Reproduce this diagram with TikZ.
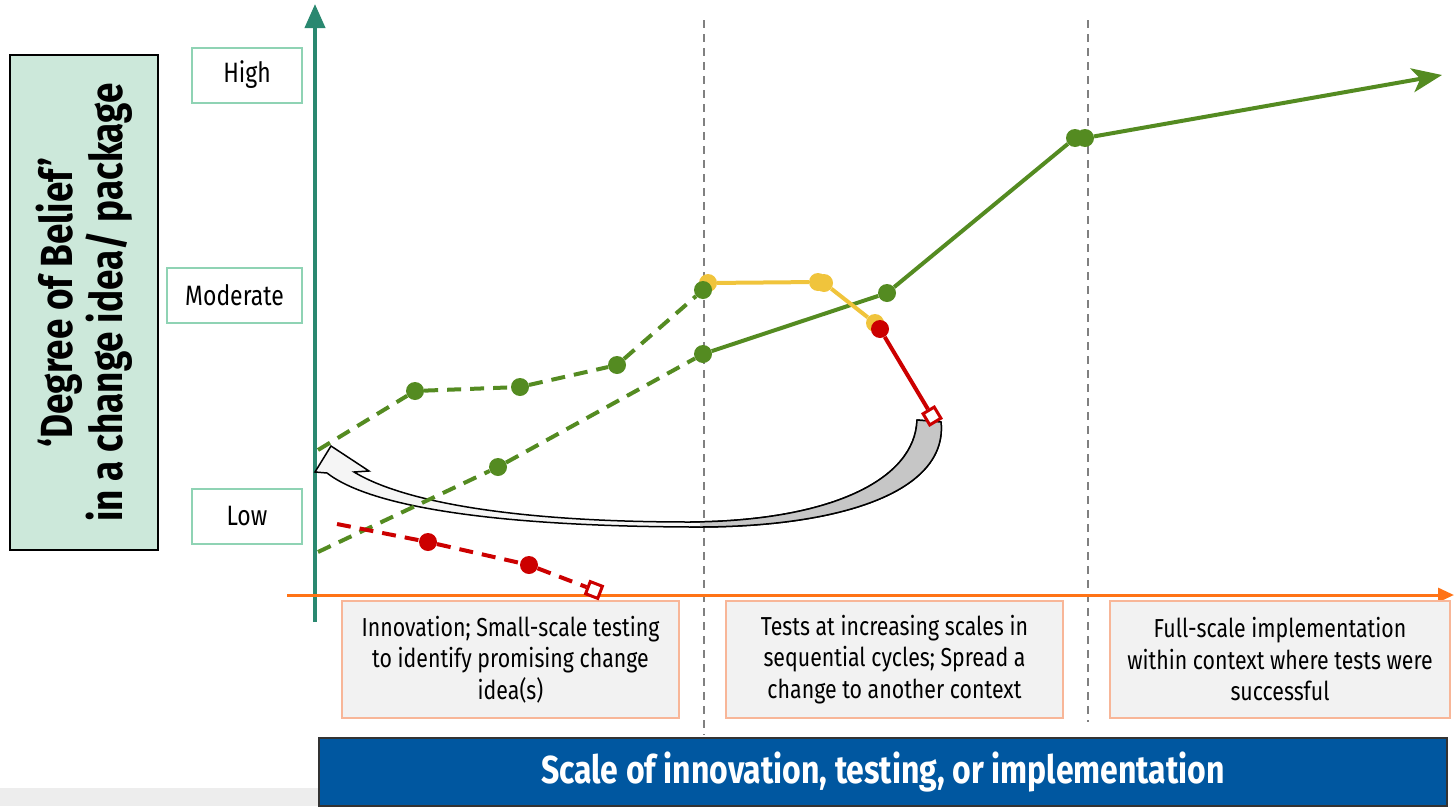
\documentclass[tikz,border=0pt]{standalone}
\usepackage{fontspec}
\setmainfont{Fira Sans}[FakeStretch=0.82]
\usetikzlibrary{arrows.meta,positioning,shapes}
\definecolor{beliefgreen}{RGB}{204,232,218}
\definecolor{axisteal}{RGB}{42,136,112}
\definecolor{axisorange}{RGB}{255,115,22}
\definecolor{levelborder}{RGB}{143,211,180}
\definecolor{stageborder}{RGB}{248,182,152}
\definecolor{stagefill}{RGB}{242,242,242}
\definecolor{scaleblue}{RGB}{0,87,160}
\definecolor{pathgreen}{RGB}{84,139,33}
\definecolor{pathyellow}{RGB}{240,196,60}
\definecolor{pathred}{RGB}{204,0,0}
\tikzset{level node/.style={draw=levelborder, line width=2pt, minimum height=55pt,
    inner sep=0pt, font=\fontsize{28}{30}\selectfont}}
\tikzset{stage node/.style={draw=stageborder, fill=stagefill, line width=2pt,
    minimum width=337pt, minimum height=117pt, inner sep=0pt, align=center,
    font=\fontsize{26}{31.5}\selectfont}}
\tikzset{dot/.style={circle, fill=#1, inner sep=0pt, minimum size=18pt}}
\tikzset{drop/.style={draw=pathred, fill=white, line width=3pt, inner sep=0pt,
    minimum size=13pt, rotate=#1}}
\tikzset{belief line/.style={line width=4pt}}
\tikzset{gap line/.style={belief line, dash pattern=on 14pt off 9pt}}
\tikzset{stage rule/.style={draw=gray, line width=1.5pt, dash pattern=on 8pt off 6pt}}

\begin{document}
\begin{tikzpicture}[x=1pt, y=-1pt]
  \useasboundingbox (0,0) rectangle (1454,806);
  \fill [gray!14] (0,788) rectangle (319,806);

  % stage separators
  \draw [stage rule] (704,20) -- (704,735);
  \draw [stage rule] (1088,20) -- (1088,722);

  % axes
  \draw [axisteal, line width=4pt, -{Triangle[width=20pt,length=24pt]}] (315,622) -- (315,4);
  \draw [axisorange, line width=3pt, -{Triangle[width=14pt,length=16pt]}] (287,595) -- (1454,595);

  % y axis title and levels
  \node [draw=black, fill=beliefgreen, line width=2pt, rotate=90, minimum width=495pt,
         minimum height=148pt, align=center, font=\bfseries\fontsize{45}{50}\selectfont]
        (belief) at (84,302.5) {‘Degree of Belief’\\in a change idea/ package};
  \node [level node, minimum width=110pt] (high)     at (247,75)    {High};
  \node [level node, minimum width=135pt] (moderate) at (234.5,295.5) {Moderate};
  \node [level node, minimum width=110pt] (low)      at (247,516)   {Low};

  % stages along the x axis
  \node [stage node]                     (stage1) at (510.5,659.5) {Innovation; Small-scale testing\\to identify promising change\\idea(s)};
  \node [stage node]                     (stage2) at (894.5,659.5) {Tests at increasing scales in\\sequential cycles; Spread a\\change to another context};
  \node [stage node, minimum width=340pt] (stage3) at (1280,659.5) {Full-scale implementation\\within context where tests were\\successful};
  \node [draw=black!80, fill=scaleblue, line width=2pt, minimum width=1128pt, minimum height=68pt,
         text=white, font=\bfseries\fontsize{39}{44}\selectfont]
        (scale) at (883,772) {Scale of innovation, testing, or implementation};

  % loop back to the start
  \path [draw=black, line width=1.5pt, fill=gray!8]
        (917,420) -- (941,422) .. controls (948,492) and (840,528) .. (690,527)
        .. controls (500,526) and (372,508) .. (327,473) -- (315,472) -- (331,446)
        -- (369,471) -- (354,472) .. controls (405,503) and (520,522) .. (690,522)
        .. controls (830,521) and (915,480) .. (917,420) -- cycle;
  \begin{scope}
    \clip (917,420) -- (941,422) .. controls (948,492) and (840,528) .. (690,527)
          -- (690,522) .. controls (830,521) and (915,480) .. (917,420) -- cycle;
    \fill [gray!45] (700,400) rectangle (960,540);
  \end{scope}
  \draw [black, line width=1.5pt]
        (917,420) -- (941,422) .. controls (948,492) and (840,528) .. (690,527)
        (690,522) .. controls (830,521) and (915,480) .. (917,420);

  % points
  \node [dot=pathyellow] (y1) at (708,283) {};
  \node [dot=pathyellow] (y2) at (818,282) {};
  \node [dot=pathyellow] (y3) at (824,283) {};
  \node [dot=pathyellow] (y4) at (875,323) {};

  \coordinate (a0) at (318,450);
  \node [dot=pathgreen] (a1) at (415,391) {};
  \node [dot=pathgreen] (a2) at (520,387) {};
  \node [dot=pathgreen] (a3) at (617,365) {};
  \node [dot=pathgreen] (a4) at (703,290) {};

  \coordinate (b0) at (318,552);
  \node [dot=pathgreen] (b1) at (498,467) {};
  \node [dot=pathgreen] (b2) at (703,354) {};
  \node [dot=pathgreen] (b3) at (887,293) {};
  \node [dot=pathgreen] (b4) at (1075,138) {};
  \node [dot=pathgreen] (b5) at (1085,138) {};
  \coordinate (b6) at (1442,75);

  \coordinate (c0) at (337,524);
  \node [dot=pathred] (c1) at (428,542) {};
  \node [dot=pathred] (c2) at (529,565) {};
  \node [drop=-21] (c3) at (594,590) {};

  \node [dot=pathred] (r1) at (880,329) {};
  \node [drop=31] (r2) at (932,416) {};

  % paths
  \draw [gap line, pathgreen] (a0) -- (a1) -- (a2) -- (a3) -- (a4);
  \draw [gap line, pathgreen] (b0) -- (b1) -- (b2);
  \draw [belief line, pathgreen] (b2) -- (b3) -- (b4);
  \draw [belief line, pathgreen, -{Stealth[width=24pt,length=30pt,inset=8pt]}] (b5) -- (b6);
  \draw [belief line, pathyellow] (y1) -- (y2) (y3) -- (y4);
  \draw [belief line, pathred] (r1) -- (r2);
  \draw [gap line, pathred] (c0) -- (c1) -- (c2) -- (c3);
\end{tikzpicture}
\end{document}
